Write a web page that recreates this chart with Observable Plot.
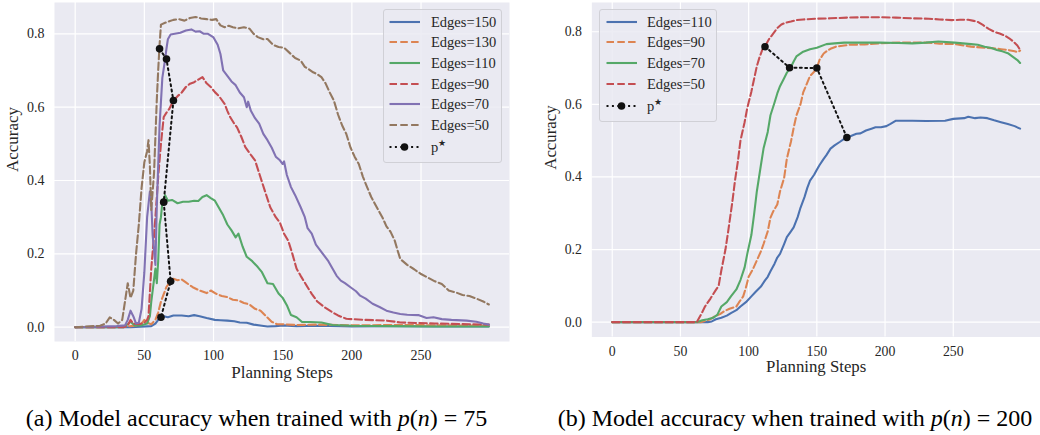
<!DOCTYPE html>
<html><head><meta charset="utf-8">
<script src="https://cdn.jsdelivr.net/npm/d3@7"></script>
<script src="https://cdn.jsdelivr.net/npm/@observablehq/plot@0.6"></script>
<style>
html,body{margin:0;padding:0;background:#fff;}
#root{position:relative;width:1040px;height:435px;overflow:hidden;font-family:'Liberation Serif',serif;}
#root svg text{font-family:'Liberation Serif',serif !important;}
.panel{position:absolute;top:0;overflow:hidden;height:385px;}
.legend{position:absolute;box-sizing:border-box;border:1px solid #d0d0d6;border-radius:3px;background:rgba(234,234,242,0.85);}
.lrow{position:absolute;left:0;right:0;height:20px;}
.lrow svg{position:absolute;top:0;}
.lrow span{position:absolute;top:0;font-family:'Liberation Serif',serif;font-size:14.5px;line-height:20px;color:#262626;white-space:nowrap;}
.lrow sup{font-size:9px;vertical-align:6px;line-height:0;}
.caption{position:absolute;width:520px;text-align:center;font-family:'Liberation Serif',serif;font-size:24px;line-height:24px;color:#000;white-space:nowrap;}
</style></head>
<body><div id="root"></div>
<script>
// ---------- Panel (a): trained with p(n)=75 ----------
const xTicks = [0, 50, 100, 150, 200, 250];
const yTicks = [0, 0.2, 0.4, 0.6, 0.8];

const stepsA150 = [0,40,55,58,60,62,64,67,71,77,82,86,90,95,101,105,110,115,119,124,129,135,139,145,150,160,175,200,230,260,299];
const accA150   = [0,0,0.003,0.01,0.02,0.028,0.03,0.027,0.032,0.032,0.03,0.033,0.03,0.025,0.02,0.019,0.018,0.016,0.013,0.012,0.007,0.004,0.002,0.003,0.005,0.003,0.004,0.002,0.003,0.002,0.002];

const stepsA130 = [0,30,40,45,48,50,52,55,58,60,62,64,66,69,71,74,77,80,85,90,95,98,102,106,110,114,118,122,126,130,134,138,142,146,150,160,175,200,240,299];
const accA130   = [0,0,0.003,0.005,0.01,0.02,0.012,0.008,0.02,0.04,0.07,0.09,0.11,0.125,0.132,0.128,0.13,0.122,0.109,0.1,0.093,0.1,0.091,0.085,0.082,0.075,0.073,0.066,0.062,0.05,0.045,0.03,0.015,0.008,0.008,0.006,0.007,0.005,0.006,0.004];

const stepsA110 = [0,35,38,40,43,48,52,54,55,57,58,59,60,61,62,63,64,65,67,70,74,78,82,86,89,92,95,98,101,104,107,110,113,116,118,121,124,128,132,135,139,143,147,150,153,156,160,164,170,178,186,200,230,260,299];
const accA110   = [0,0,0.008,0.015,0.005,0.005,0.01,0.03,0.07,0.13,0.16,0.12,0.18,0.28,0.3,0.34,0.35,0.36,0.345,0.347,0.338,0.342,0.342,0.345,0.344,0.355,0.36,0.352,0.345,0.325,0.305,0.28,0.264,0.245,0.255,0.22,0.192,0.18,0.164,0.15,0.12,0.118,0.092,0.08,0.06,0.033,0.027,0.014,0.014,0.013,0.006,0.004,0.003,0.002,0.002];

const stepsA90 = [0,35,38,40,42,46,50,52,53,55,57,58,60,62,64,66,68,71,74,77,80,83,86,89,92,95,98,101,104,108,110,112,115,117,120,123,127,130,133,137,141,145,148,151,154,157,160,163,167,171,175,180,185,190,196,200,210,225,235,260,299];
const accA90   = [0,0,0.005,0.02,0.01,0.008,0.012,0.02,0.03,0.16,0.25,0.3,0.41,0.5,0.573,0.585,0.595,0.618,0.63,0.64,0.655,0.664,0.668,0.675,0.682,0.665,0.655,0.641,0.63,0.609,0.59,0.573,0.555,0.545,0.52,0.491,0.47,0.455,0.42,0.373,0.327,0.3,0.285,0.255,0.236,0.2,0.16,0.14,0.115,0.091,0.07,0.055,0.043,0.032,0.023,0.022,0.02,0.018,0.013,0.01,0.007];

const stepsA70 = [0,30,36,38,40,42,44,46,48,50,52,54,55,56,58,59,61,63,65,66,67,69,72,76,80,84,87,90,93,96,100,103,105,107,110,113,116,119,122,124,125,127,130,133,136,139,142,145,148,150,151,153,156,159,163,166,168,171,174,177,180,183,186,189,192,195,199,203,206,210,215,220,225,230,235,240,248,254,259,265,272,283,290,295,299];
const accA70   = [0,0.003,0.005,0.02,0.045,0.03,0.01,0.012,0.05,0.15,0.3,0.37,0.34,0.25,0.17,0.33,0.55,0.68,0.73,0.76,0.785,0.798,0.8,0.803,0.809,0.812,0.806,0.807,0.8,0.8,0.79,0.77,0.745,0.7,0.685,0.67,0.66,0.64,0.627,0.6,0.615,0.59,0.57,0.555,0.527,0.51,0.49,0.465,0.455,0.445,0.452,0.415,0.382,0.36,0.327,0.3,0.27,0.255,0.225,0.21,0.195,0.18,0.16,0.14,0.127,0.12,0.109,0.098,0.086,0.078,0.064,0.055,0.045,0.04,0.036,0.034,0.033,0.025,0.027,0.022,0.02,0.018,0.015,0.01,0.007];

const stepsA50 = [0,18,22,25,28,31,34,36,38,40,42,44,46,48,50,52,53,54,55,57,59,60,61,62,65,68,71,75,79,83,87,91,95,99,102,105,108,111,114,118,122,126,129,132,136,139,143,147,151,155,159,163,166,169,172,175,178,181,184,187,190,193,196,199,202,205,208,211,214,218,222,225,228,231,233,235,240,245,250,255,260,265,270,275,280,285,290,295,299];
const accA50   = [0,0.004,0.01,0.027,0.02,0.01,0.02,0.07,0.12,0.08,0.1,0.2,0.28,0.38,0.45,0.48,0.51,0.44,0.32,0.42,0.62,0.7,0.77,0.825,0.83,0.834,0.838,0.84,0.836,0.843,0.846,0.842,0.84,0.838,0.84,0.823,0.818,0.822,0.818,0.815,0.818,0.814,0.8,0.791,0.785,0.786,0.77,0.764,0.762,0.748,0.734,0.727,0.71,0.703,0.695,0.69,0.682,0.665,0.64,0.618,0.58,0.55,0.527,0.49,0.465,0.445,0.41,0.382,0.355,0.327,0.3,0.275,0.26,0.236,0.21,0.186,0.17,0.158,0.145,0.135,0.125,0.118,0.1,0.095,0.088,0.085,0.078,0.07,0.062];

const pStarStepsA = [61, 66, 71, 64, 69, 62];
const pStarAccA   = [0.759, 0.731, 0.618, 0.341, 0.125, 0.027];

// ---------- Panel (b): trained with p(n)=200 ----------
const stepsB110 = [0,70,73,76,80,84,87,91,94,98,102,105,109,112,114,116,119,121,123,126,128,131,133,136,138,141,143,145,148,150,152,155,157,160,163,167,170,172,175,179,182,186,190,193,197,201,204,208,220,230,244,250,258,261,266,270,275,280,285,290,295,299];
const accB110   = [0,0,0.002,0.008,0.012,0.018,0.025,0.033,0.043,0.055,0.071,0.083,0.098,0.115,0.125,0.14,0.161,0.178,0.188,0.215,0.234,0.25,0.261,0.29,0.315,0.345,0.37,0.39,0.406,0.42,0.433,0.45,0.46,0.478,0.487,0.497,0.505,0.509,0.513,0.519,0.52,0.528,0.533,0.537,0.537,0.54,0.546,0.555,0.555,0.554,0.555,0.56,0.562,0.566,0.562,0.564,0.562,0.556,0.551,0.546,0.54,0.533];

const stepsB90 = [0,65,68,72,75,79,82,86,91,93,96,98,100,103,106,109,111,114,116,118,121,123,126,128,131,133,135,138,140,143,145,148,150,152,155,157,160,164,170,174,185,196,210,220,232,240,251,258,263,270,278,285,290,295,297,299];
const accB90   = [0,0,0.003,0.008,0.016,0.022,0.03,0.037,0.043,0.055,0.071,0.095,0.125,0.145,0.17,0.195,0.216,0.25,0.288,0.305,0.324,0.36,0.397,0.45,0.497,0.535,0.569,0.6,0.633,0.66,0.678,0.69,0.7,0.723,0.74,0.746,0.753,0.759,0.762,0.764,0.765,0.768,0.77,0.77,0.77,0.767,0.766,0.762,0.759,0.757,0.755,0.752,0.75,0.746,0.744,0.748];

const stepsB70 = [0,62,66,70,74,77,80,84,87,91,94,97,99,102,104,106,109,111,114,116,119,121,123,126,128,131,133,135,140,145,150,157,163,170,185,196,210,220,230,239,251,263,268,273,278,282,286,290,294,297,299];
const accB70   = [0,0,0.005,0.008,0.012,0.02,0.043,0.055,0.071,0.09,0.116,0.15,0.188,0.24,0.297,0.36,0.433,0.48,0.524,0.57,0.605,0.63,0.65,0.672,0.687,0.703,0.718,0.732,0.745,0.752,0.756,0.766,0.768,0.77,0.77,0.77,0.769,0.768,0.77,0.773,0.77,0.766,0.764,0.759,0.755,0.75,0.746,0.741,0.73,0.722,0.714];

const stepsB50 = [0,62,65,68,72,76,78,80,83,85,88,90,92,94,97,99,102,104,106,108,110,112,115,118,121,124,127,131,135,140,150,160,172,185,196,208,220,232,240,249,255,261,265,268,272,276,280,284,288,291,294,297,299];
const accB50   = [0,0,0.02,0.043,0.065,0.089,0.1,0.143,0.2,0.25,0.33,0.39,0.44,0.5,0.55,0.59,0.635,0.67,0.705,0.73,0.75,0.76,0.78,0.795,0.81,0.82,0.825,0.828,0.832,0.834,0.836,0.837,0.839,0.84,0.84,0.839,0.837,0.836,0.834,0.832,0.833,0.833,0.83,0.827,0.818,0.808,0.8,0.795,0.789,0.782,0.773,0.762,0.75];

const pStarStepsB = [112, 130, 150, 172];
const pStarAccB   = [0.759, 0.701, 0.700, 0.509];

// ---------- styles ----------
const C = {blue:"#4C72B0", orange:"#DD8452", green:"#55A868", red:"#C44E52", purple:"#8172B3", brown:"#937860"};
const LW = 2.1;
const DASH = "7.5,3.3";
const DOTS = "2,3.4";
const FONT = "'Liberation Serif', serif";

const seriesA = [
  {label:"Edges=150", x:stepsA150, y:accA150, color:C.blue,   dashed:false},
  {label:"Edges=130", x:stepsA130, y:accA130, color:C.orange, dashed:true},
  {label:"Edges=110", x:stepsA110, y:accA110, color:C.green,  dashed:false},
  {label:"Edges=90",  x:stepsA90,  y:accA90,  color:C.red,    dashed:true},
  {label:"Edges=70",  x:stepsA70,  y:accA70,  color:C.purple, dashed:false},
  {label:"Edges=50",  x:stepsA50,  y:accA50,  color:C.brown,  dashed:true}
];
const seriesB = [
  {label:"Edges=110", x:stepsB110, y:accB110, color:C.blue,   dashed:false},
  {label:"Edges=90",  x:stepsB90,  y:accB90,  color:C.orange, dashed:true},
  {label:"Edges=70",  x:stepsB70,  y:accB70,  color:C.green,  dashed:false},
  {label:"Edges=50",  x:stepsB50,  y:accB50,  color:C.red,    dashed:true}
];

const rows = (xs, ys) => xs.map((x, i) => ({x, y: ys[i]}));

function makePanel(cfg) {
  const pstar = rows(cfg.px, cfg.py);
  return Plot.plot({
    width: cfg.width, height: 385,
    marginLeft: cfg.ml, marginRight: cfg.mr, marginTop: 2, marginBottom: 44,
    x: {domain: [-14.95, 313.95]},
    y: {domain: cfg.ydom},
    style: {fontFamily: FONT, fontSize: "14px", background: "transparent", color: "#262626", overflow: "visible"},
    marks: [
      Plot.frame({fill: "#EAEAF2", stroke: "none"}),
      Plot.gridX(xTicks, {stroke: "#ffffff", strokeOpacity: 1, strokeWidth: 1.2}),
      Plot.gridY(yTicks, {stroke: "#ffffff", strokeOpacity: 1, strokeWidth: 1.2}),
      Plot.axisX(xTicks, {tickSize: 0, tickPadding: 9, fontSize: 14, fontFamily: FONT, label: null, fill: "#262626"}),
      Plot.axisY(yTicks, {tickSize: 0, tickPadding: 10, tickFormat: d3.format(".1f"), fontSize: 14, fontFamily: FONT, label: null, fill: "#262626"}),
      ...cfg.series.map(s => Plot.line(rows(s.x, s.y), {x: "x", y: "y", stroke: s.color, strokeWidth: LW, strokeDasharray: s.dashed ? DASH : null})),
      Plot.line(pstar, {x: "x", y: "y", stroke: "#111", strokeWidth: 2, strokeDasharray: DOTS}),
      Plot.dot(pstar, {x: "x", y: "y", r: 3.8, fill: "#111", stroke: "none"}),
      Plot.text(["Planning Steps"], {text: d => d, frameAnchor: "bottom", dy: 36, fontSize: 17, fontFamily: FONT, fill: "#262626"}),
      Plot.text(["Accuracy"], {text: d => d, frameAnchor: "left", dx: -42, rotate: -90, fontSize: 17, fontFamily: FONT, fill: "#262626"})
    ]
  });
}

function makeLegend(series, box) {
  const lg = document.createElement("div");
  lg.className = "legend";
  Object.assign(lg.style, {left: box.left + "px", top: box.top + "px", width: box.w + "px", height: box.h + "px"});
  const items = series.map(s => ({label: s.label, color: s.color, dash: s.dashed ? DASH : null, star: false}));
  items.push({label: "p", color: "#111", dash: DOTS, star: true});
  items.forEach((it, i) => {
    const r = document.createElement("div");
    r.className = "lrow";
    const cy = box.firstY + i * 20.7 + (it.star ? 1.5 : 0);
    r.style.top = (cy - 10) + "px";
    const svgNS = "http://www.w3.org/2000/svg";
    const sv = document.createElementNS(svgNS, "svg");
    sv.setAttribute("width", "32"); sv.setAttribute("height", "20");
    sv.style.left = box.sw + "px";
    const ln = document.createElementNS(svgNS, "line");
    ln.setAttribute("x1", "0.5"); ln.setAttribute("x2", "31"); ln.setAttribute("y1", "10"); ln.setAttribute("y2", "10");
    ln.setAttribute("stroke", it.color); ln.setAttribute("stroke-width", it.star ? "2" : String(LW));
    if (it.dash) ln.setAttribute("stroke-dasharray", it.dash);
    sv.appendChild(ln);
    if (it.star) {
      const c = document.createElementNS(svgNS, "circle");
      c.setAttribute("cx", "15.5"); c.setAttribute("cy", "10"); c.setAttribute("r", "3.8"); c.setAttribute("fill", "#111");
      sv.appendChild(c);
    }
    r.appendChild(sv);
    const t = document.createElement("span");
    t.style.left = box.tx + "px";
    t.innerHTML = it.star ? 'p<sup>★</sup>' : it.label;
    r.appendChild(t);
    lg.appendChild(r);
  });
  return lg;
}

const root = document.getElementById("root");

const pa = document.createElement("div");
pa.className = "panel"; pa.style.left = "0px"; pa.style.width = "520px";
pa.appendChild(makePanel({series: seriesA, px: pStarStepsA, py: pStarAccA, width: 520, ml: 54, mr: 11, ydom: [-0.039, 0.8854]}));
root.appendChild(pa);

const pb = document.createElement("div");
pb.className = "panel"; pb.style.left = "520px"; pb.style.width = "520px";
pb.appendChild(makePanel({series: seriesB, px: pStarStepsB, py: pStarAccB, width: 527, ml: 72.3, mr: 0, ydom: [-0.0408, 0.8807]}));
root.appendChild(pb);

root.appendChild(makeLegend(seriesA, {left: 382.7, top: 9.3, w: 119.6, h: 154, firstY: 11.4, sw: 5, tx: 47.3}));
root.appendChild(makeLegend(seriesB, {left: 599.3, top: 9.3, w: 118, h: 112.4, firstY: 11.4, sw: 5.7, tx: 46.7}));

const capA = document.createElement("div");
capA.className = "caption"; capA.style.left = "-3.5px"; capA.style.top = "406px";
capA.innerHTML = '(a) Model accuracy when trained with <i>p</i>(<i>n</i>) = 75';
root.appendChild(capA);

const capB = document.createElement("div");
capB.className = "caption"; capB.style.left = "535px"; capB.style.top = "406px";
capB.innerHTML = '(b) Model accuracy when trained with <i>p</i>(<i>n</i>) = 200';
root.appendChild(capB);
</script>
</body></html>
